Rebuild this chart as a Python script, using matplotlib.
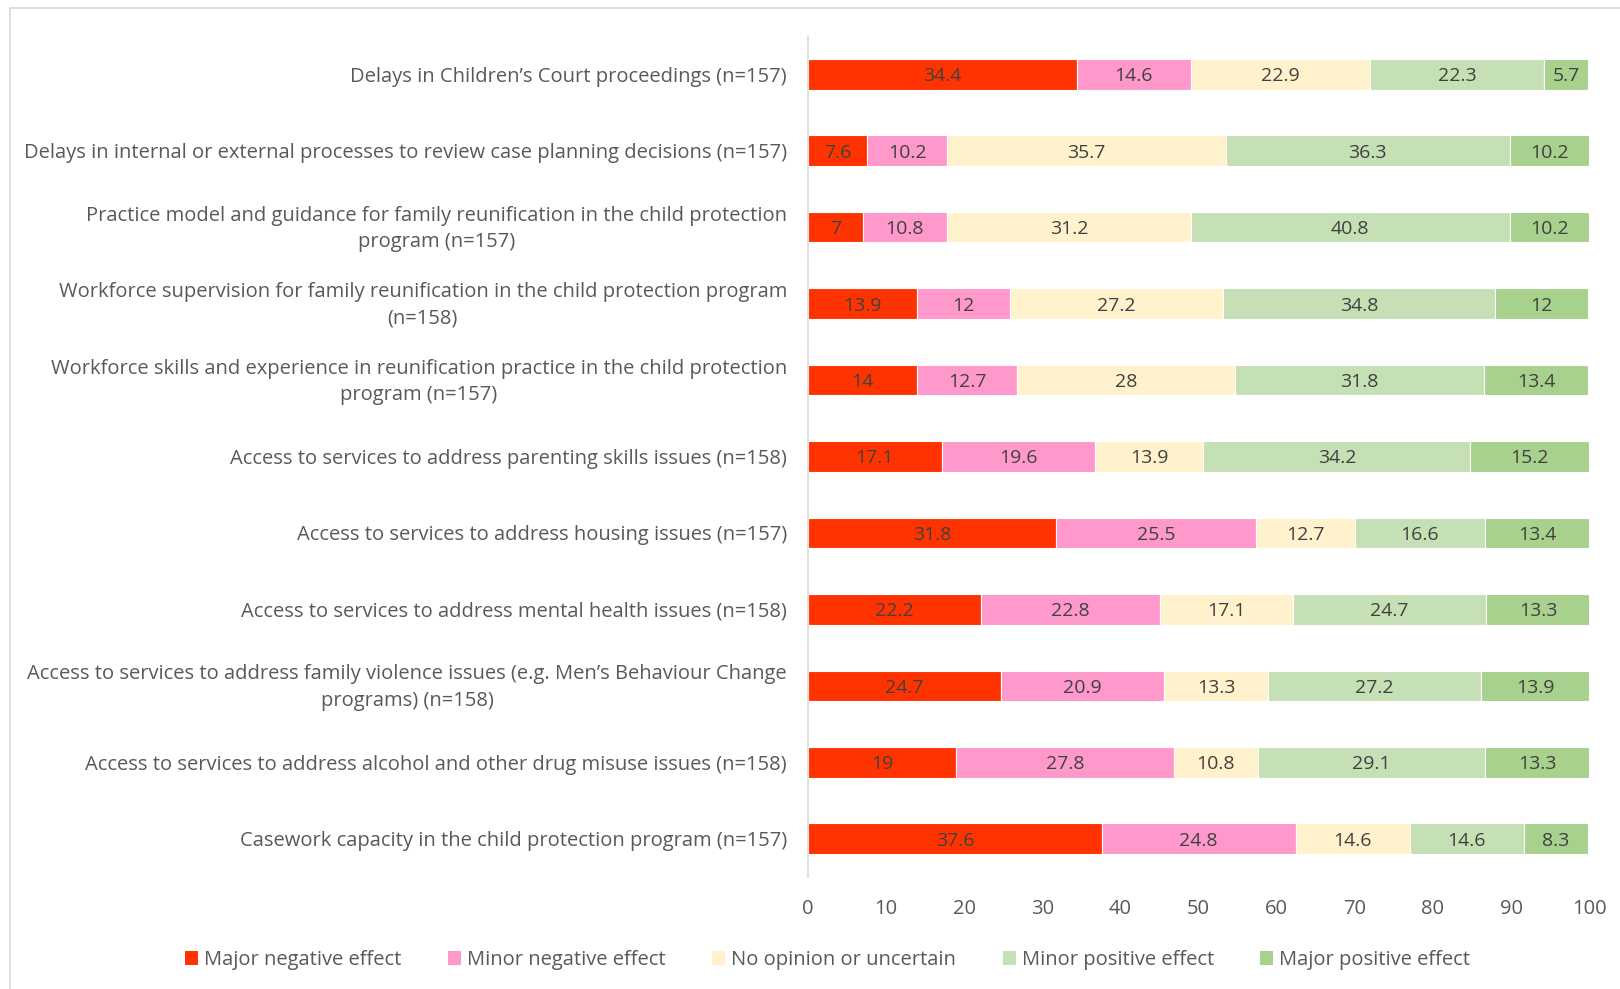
import matplotlib
matplotlib.use("Agg")
import matplotlib.pyplot as plt
from matplotlib.patches import Rectangle
from matplotlib.transforms import ScaledTranslation

plt.rcParams['font.family'] = ['Open Sans', 'DejaVu Sans']

categories = [
    "Delays in Children\u2019s Court proceedings (n=157)",
    "Delays in internal or external processes to review case planning decisions (n=157)",
    "Practice model and guidance for family reunification in the child protection\nprogram (n=157)",
    "Workforce supervision for family reunification in the child protection program\n(n=158)",
    "Workforce skills and experience in reunification practice in the child protection\nprogram (n=157)",
    "Access to services to address parenting skills issues (n=158)",
    "Access to services to address housing issues (n=157)",
    "Access to services to address mental health issues (n=158)",
    "Access to services to address family violence issues (e.g. Men\u2019s Behaviour Change\nprograms) (n=158)",
    "Access to services to address alcohol and other drug misuse issues (n=158)",
    "Casework capacity in the child protection program (n=157)",
]

major_negative = [34.4, 7.6, 7, 13.9, 14, 17.1, 31.8, 22.2, 24.7, 19, 37.6]
minor_negative = [14.6, 10.2, 10.8, 12, 12.7, 19.6, 25.5, 22.8, 20.9, 27.8, 24.8]
no_opinion = [22.9, 35.7, 31.2, 27.2, 28, 13.9, 12.7, 17.1, 13.3, 10.8, 14.6]
minor_positive = [22.3, 36.3, 40.8, 34.8, 31.8, 34.2, 16.6, 24.7, 27.2, 29.1, 14.6]
major_positive = [5.7, 10.2, 10.2, 12, 13.4, 15.2, 13.4, 13.3, 13.9, 13.3, 8.3]

series_names = ["Major negative effect", "Minor negative effect", "No opinion or uncertain",
                "Minor positive effect", "Major positive effect"]
series_values = [major_negative, minor_negative, no_opinion, minor_positive, major_positive]
colors = ["#FF3300", "#FF99CC", "#FFF2CC", "#C5E0B4", "#A9D18E"]

xticks = [0, 10, 20, 30, 40, 50, 60, 70, 80, 90, 100]

text_color = "#595959"

fig = plt.figure(figsize=(16.2, 9.89), dpi=100)
fig.patches.append(Rectangle((10 / 1620, -0.1), 1.2, 1 - 8 / 989 + 0.1,
                             transform=fig.transFigure, fill=False,
                             edgecolor="#D9D9D9", linewidth=1.2))

ax = fig.add_axes([0.4988, 0.1133, 0.4822, 0.8503])

ypos = list(range(len(categories)))
left = [0.0] * len(categories)
for name, vals, col in zip(series_names, series_values, colors):
    ax.barh(ypos, vals, left=left, height=0.4, color=col,
            edgecolor="white", linewidth=0.8, label=name)
    for y, l, v in zip(ypos, left, vals):
        ax.text(l + v / 2, y, f"{v:g}", ha="center", va="center_baseline",
                fontsize=14, color="#404040")
    left = [a + b for a, b in zip(left, vals)]

ax.set_xlim(0, 100)
ax.set_ylim(len(categories) - 0.5, -0.5)
ax.set_xticks(xticks)
ax.set_xticklabels([str(t) for t in xticks])
ax.set_yticks(ypos)
ax.set_yticklabels([])
ax.tick_params(axis="x", length=0, labelsize=14.5, labelcolor=text_color, pad=16)
ax.tick_params(axis="y", length=0)
for side in ["top", "right", "bottom"]:
    ax.spines[side].set_visible(False)
ax.spines["left"].set_color("#D9D9D9")
ax.spines["left"].set_linewidth(1.2)

# category labels to the left of the axis, two-line ones nudged up slightly
label_trans = ax.get_yaxis_transform()
for y, cat in zip(ypos, categories):
    tr = label_trans + ScaledTranslation(-0.21, 0.04 if "\n" in cat else 0.0,
                                         fig.dpi_scale_trans)
    ax.text(0, y, cat, transform=tr, ha="right", va="center_baseline",
            multialignment="center", fontsize=14.5, color=text_color,
            linespacing=1.45)

handles, labels = ax.get_legend_handles_labels()
leg = fig.legend(handles, labels, loc="center", bbox_to_anchor=(0.511, 1 - 960 / 989),
                 ncol=5, frameon=False, fontsize=14.5, handlelength=0.65,
                 handleheight=0.65, handletextpad=0.3, columnspacing=2.3)
for t in leg.get_texts():
    t.set_color(text_color)
for h in leg.legend_handles:
    h.set_edgecolor("none")

fig.savefig("out.png", dpi=100)
